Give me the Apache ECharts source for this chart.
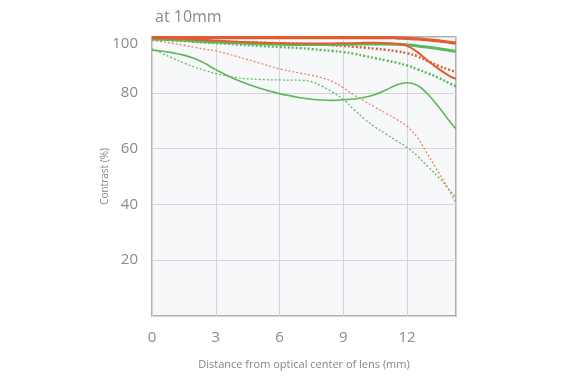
<!DOCTYPE html>
<html><head><meta charset="utf-8">
<script src="https://cdn.jsdelivr.net/npm/echarts@6/dist/echarts.min.js"></script>
<style>html,body{margin:0;padding:0;background:#fff;}#c{width:577px;height:383px;}</style>
</head><body><div id="c"></div>
<script>
const title = 'at 10mm';
const xName = 'Distance from optical center of lens (mm)';
const yName = 'Contrast (%)';
const xTicks = [0, 3, 6, 9, 12];
const yTicks = [20, 40, 60, 80, 100];
const X = [0,0.5,1,1.5,2,2.5,3,4,5,6,7,7.5,8,8.5,9,9.5,10,10.5,11,11.5,12,12.5,13,13.5,14,14.3];
const redThickSolid  = [99.8,99.8,99.8,99.8,99.8,99.8,99.8,99.8,99.8,99.8,99.8,99.8,99.8,99.8,99.8,99.8,99.8,99.8,99.8,99.7,99.5,99.3,99.0,98.6,98.1,97.8];
const redThinSolid   = [99.8,99.7,99.5,99.3,99.1,98.9,98.7,98.3,98.0,97.8,97.7,97.7,97.7,97.7,97.8,97.8,97.9,97.9,97.8,97.5,96.8,94.5,91.3,88.5,86.0,85.0];
const redThickDotted = [99.5,99.3,99.2,99.0,98.8,98.6,98.5,98.2,98.0,97.8,97.6,97.4,97.3,97.0,96.8,96.5,96.2,95.8,95.4,94.9,94.2,93.0,91.3,89.6,88.2,87.5];
const redThinDotted  = [98.8,98.3,97.7,97.0,96.3,95.6,95.0,93.0,90.8,88.6,87.0,86.3,85.4,84.0,81.8,79.2,77.0,74.8,72.7,70.5,68.0,63.8,57.5,51.3,44.8,40.5];
const greenThickSolid  = [99.3,99.2,99.0,98.8,98.6,98.4,98.2,97.9,97.6,97.4,97.3,97.3,97.3,97.3,97.4,97.4,97.5,97.5,97.5,97.4,97.2,96.8,96.3,95.8,95.2,94.9];
const greenThickDotted = [99.3,99.1,98.8,98.6,98.3,98.0,97.8,97.3,96.8,96.4,96.0,95.7,95.3,95.0,94.6,94.0,93.2,92.4,91.6,90.8,89.8,88.4,86.9,85.3,83.4,82.3];
const greenThinSolid   = [95.3,94.9,94.3,93.5,92.3,90.5,88.3,84.6,81.8,79.7,78.2,77.7,77.4,77.3,77.5,77.8,78.4,79.4,81.0,82.8,83.6,82.6,79.3,74.8,69.8,67.0];
const greenThinDotted  = [95.8,94.0,92.3,90.7,89.2,88.0,86.9,85.4,84.8,84.6,84.5,84.0,82.4,80.2,77.6,74.0,70.6,67.7,65.2,62.8,60.4,57.2,53.4,49.6,45.0,42.5];

const RED = '#e15b33', RED_L = '#ea7d55', GREEN = '#5db85a';
const pts = v => X.map((x, i) => [x, v[i]]);
function mk(name, vals, color, width, type) {
  return { name, type: 'line', data: pts(vals), smooth: 0.4, symbol: 'none',
    lineStyle: { color, width, type: type || 'solid', cap: 'butt' }, silent: true };
}
const chart = echarts.init(document.getElementById('c'), null, { renderer: 'canvas' });
chart.setOption({
  animation: false,
  title: { text: title, left: 150, top: 4, textStyle: { fontFamily: 'Open Sans', fontSize: 16, fontWeight: 'normal', color: '#8a8a8a' } },
  grid: { left: 152, top: 37, width: 304, height: 279, show: true, backgroundColor: '#f7f8fa', borderColor: '#96969c', borderWidth: 1.5 },
  xAxis: {
    type: 'value', min: 0, max: 14.3, interval: 3,
    name: xName, nameLocation: 'middle', nameGap: 43, nameMoveOverlap: false,
    nameTextStyle: { fontFamily: 'Open Sans', fontSize: 11, color: '#858585' },
    axisLine: { show: false }, axisTick: { show: false },
    axisLabel: { margin: 14, fontFamily: 'Open Sans', fontSize: 15, color: '#8a8a8a',
      formatter: v => xTicks.indexOf(v) >= 0 ? String(v) : '' },
    splitLine: { show: true, lineStyle: { color: '#d3d4d9', width: 1 } }
  },
  yAxis: {
    type: 'value', min: 0, max: 100, interval: 20,
    name: yName, nameLocation: 'middle', nameGap: 42, nameRotate: 90, nameMoveOverlap: false,
    nameTextStyle: { fontFamily: 'Open Sans', fontSize: 10, color: '#858585' },
    axisLine: { show: false }, axisTick: { show: false },
    axisLabel: { margin: 14, fontFamily: 'Open Sans', fontSize: 15, color: '#8a8a8a',
      formatter: v => v === 100 ? '{t|100}' : (yTicks.indexOf(v) >= 0 ? String(v) : ''),
      rich: { t: { fontFamily: 'Open Sans', fontSize: 15, color: '#8a8a8a', padding: [13, 0, 0, 0] } } },
    splitLine: { show: true, lineStyle: { color: '#d3d4d9', width: 1 } }
  },
  series: [
    mk('g30d', greenThinDotted, GREEN, 1.2, [2, 2]),
    mk('r30d', redThinDotted, RED_L, 1.2, [2, 2]),
    mk('g30s', greenThinSolid, GREEN, 1.6),
    mk('g10d', greenThickDotted, GREEN, 2.4, [2, 2]),
    mk('r10d', redThickDotted, RED, 2.4, [2, 2]),
    mk('g10s', greenThickSolid, GREEN, 3),
    mk('r30s', redThinSolid, RED, 2),
    mk('r10s', redThickSolid, RED, 3.2)
  ]
});
</script></body></html>
